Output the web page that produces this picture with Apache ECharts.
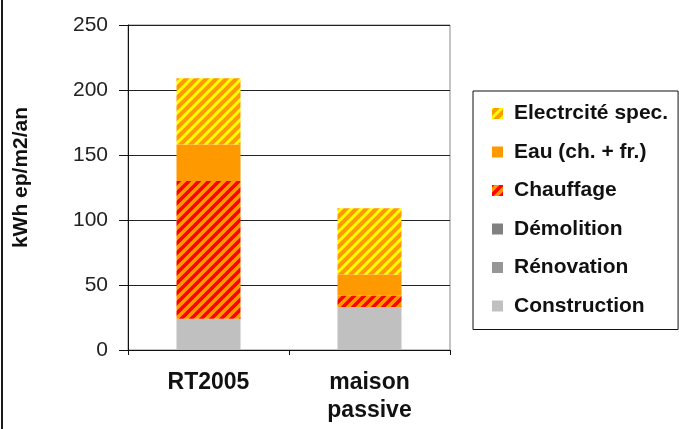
<!DOCTYPE html>
<html>
<head>
<meta charset="utf-8">
<script src="https://cdn.jsdelivr.net/npm/echarts@6/dist/echarts.min.js"></script>
<style>
  html, body { margin: 0; padding: 0; background: #fff; }
  #chart { position: relative; width: 679px; height: 429px; }
  #edge { position: absolute; left: 1px; top: 0; width: 2px; height: 429px; background: #1a1a1a; }
</style>
</head>
<body>
<div id="chart"></div>
<div id="edge"></div>
<script>
// Energy balance per building type (kWh ep/m2/an), stacked from bottom to top
const categories = ['RT2005', 'maison\npassive'];
const construction = [24, 33];
const renovation   = [0, 0];
const demolition   = [0, 0];
const chauffage    = [106, 9];
const eau          = [28, 16];
const electricite  = [51, 51];
const yTicks = [0, 50, 100, 150, 200, 250];

const FONT = '"Liberation Sans", Arial, sans-serif';

// Diagonal "/" hatch fill as a repeating canvas pattern
function hatch(bg, fg, lw) {
  const s = 10;
  const c = document.createElement('canvas');
  c.width = s; c.height = s;
  const g = c.getContext('2d');
  g.fillStyle = bg;
  g.fillRect(0, 0, s, s);
  g.strokeStyle = fg;
  g.lineWidth = lw;
  g.beginPath();
  g.moveTo(0, s); g.lineTo(s, 0);
  g.moveTo(-s / 2, s / 2); g.lineTo(s / 2, -s / 2);
  g.moveTo(s / 2, s * 1.5); g.lineTo(s * 1.5, s / 2);
  g.stroke();
  return { image: c, repeat: 'repeat' };
}

const ORANGE = '#FF9900';
const series = [
  { name: 'Construction', data: construction, color: '#C0C0C0' },
  { name: 'Rénovation', data: renovation, color: '#969696' },
  { name: 'Démolition', data: demolition, color: '#808080' },
  { name: 'Chauffage', data: chauffage, color: hatch(ORANGE, '#FF0000', 3.5) },
  { name: 'Eau (ch. + fr.)', data: eau, color: ORANGE },
  { name: 'Electrcité spec.', data: electricite, color: hatch(ORANGE, '#FFFF00', 3) }
].map(s => ({
  name: s.name,
  type: 'bar',
  stack: 'total',
  barWidth: 64,
  data: s.data,
  itemStyle: { color: s.color },
  emphasis: { disabled: true }
}));

const chart = echarts.init(document.getElementById('chart'), null, { renderer: 'canvas' });
chart.setOption({
  animation: false,
  backgroundColor: '#fff',
  grid: {
    left: 128, right: 229, top: 25, bottom: 79,
    show: true, borderColor: '#8a8a8a', borderWidth: 1, backgroundColor: 'transparent'
  },
  legend: {
    orient: 'vertical',
    left: 473, top: 91,
    padding: [12, 10, 13, 19],
    borderColor: '#111', borderWidth: 1,
    itemWidth: 11, itemHeight: 11, itemGap: 17.5,
    icon: 'rect',
    selectedMode: false,
    data: ['Electrcité spec.', 'Eau (ch. + fr.)', 'Chauffage', 'Démolition', 'Rénovation', 'Construction'],
    textStyle: { fontFamily: FONT, fontWeight: 'bold', fontSize: 21, lineHeight: 20, color: '#111', padding: [0, 0, 0, 6] }
  },
  xAxis: {
    type: 'category',
    data: categories,
    axisLine: { lineStyle: { color: '#111', width: 1 } },
    axisTick: { show: true, length: 5, lineStyle: { color: '#111' } },
    axisLabel: { fontFamily: FONT, fontWeight: 'bold', fontSize: 23, lineHeight: 28, margin: 19, color: '#111' },
    splitLine: { show: false }
  },
  yAxis: {
    type: 'value',
    min: 0, max: 250, interval: 50,
    name: 'kWh ep/m2/an',
    nameLocation: 'middle',
    nameRotate: 90,
    nameGap: 96,
    nameTextStyle: { fontFamily: FONT, fontWeight: 'bold', fontSize: 21, color: '#111', padding: [0, 0, 0, 20] },
    axisLine: { show: true, lineStyle: { color: '#111', width: 1 } },
    axisTick: { show: true, length: 9, lineStyle: { color: '#111' } },
    axisLabel: {
      fontFamily: FONT, fontSize: 21, margin: 20, color: '#222',
      formatter: v => (yTicks.indexOf(v) >= 0 ? String(v) : '')
    },
    splitLine: { lineStyle: { color: '#222', width: 1 } }
  },
  series: series
});
</script>
</body>
</html>
